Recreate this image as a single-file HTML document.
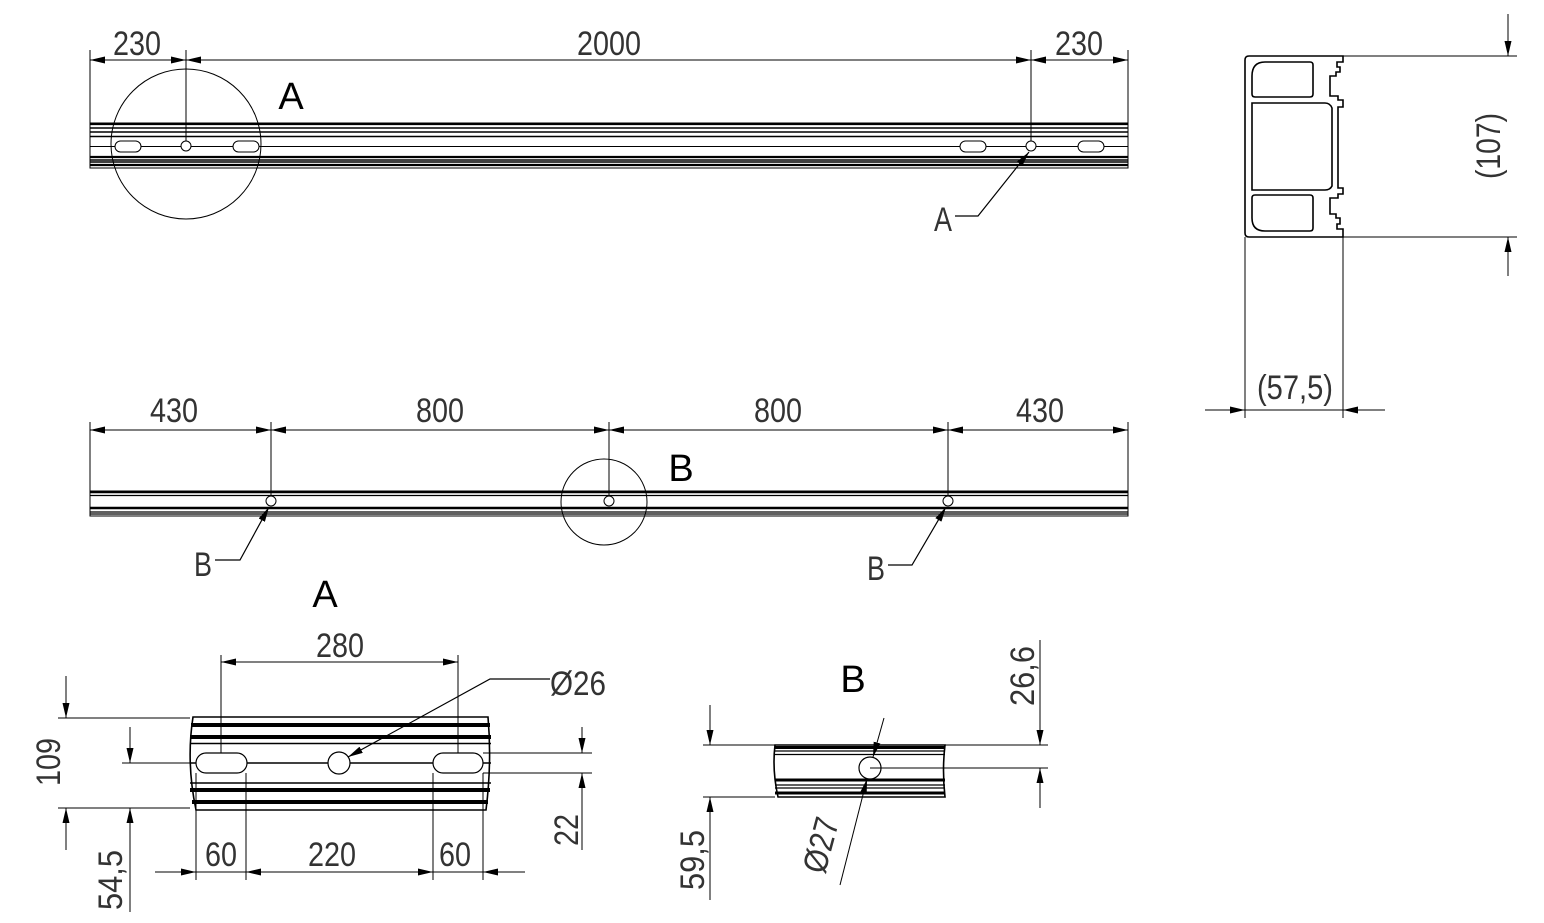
<!DOCTYPE html>
<html><head><meta charset="utf-8"><style>
html,body{margin:0;padding:0;background:#fff}
svg{display:block}
text{font-family:"Liberation Sans",sans-serif;fill:#333}
.d{font-size:34px}
</style></head><body>
<svg width="1544" height="923" viewBox="0 0 1544 923" xmlns="http://www.w3.org/2000/svg">
<defs>
<marker id="ar" viewBox="0 0 15 7" refX="15" refY="3.5" markerWidth="15" markerHeight="7" markerUnits="userSpaceOnUse" orient="auto-start-reverse"><path d="M0,0 L15,3.5 L0,7 z" fill="#000"/></marker>
</defs>
<g stroke="#000" fill="none" stroke-width="1">
<!-- TOP BEAM -->
<rect x="90" y="123" width="1038" height="45"/>
<g stroke-width="2.2"><line x1="90" y1="124" x2="1128" y2="124"/><line x1="90" y1="157" x2="1128" y2="157"/><line x1="90" y1="165" x2="1128" y2="165"/></g>
<g stroke-width="1.4"><line x1="90" y1="128" x2="1128" y2="128"/><line x1="90" y1="132" x2="1128" y2="132"/><line x1="90" y1="136.5" x2="1128" y2="136.5"/><line x1="90" y1="160" x2="1128" y2="160"/><line x1="90" y1="162" x2="1128" y2="162"/></g>
<line x1="90" y1="146.5" x2="1128" y2="146.5"/>
<g fill="#fff">
<rect x="115" y="141" width="26" height="11" rx="5.5"/><circle cx="186" cy="146" r="5"/><rect x="233" y="141" width="26" height="11" rx="5.5"/>
<rect x="960" y="141" width="26" height="11" rx="5.5"/><circle cx="1031" cy="146" r="5"/><rect x="1078" y="141" width="26" height="11" rx="5.5"/>
</g>
<circle cx="186" cy="144" r="75"/>
<line x1="90" y1="50" x2="90" y2="123"/><line x1="186" y1="50" x2="186" y2="141"/><line x1="1031" y1="50" x2="1031" y2="141"/><line x1="1128" y1="50" x2="1128" y2="123"/>
<line x1="138" y1="60" x2="90" y2="60" marker-end="url(#ar)"/><line x1="138" y1="60" x2="186" y2="60" marker-end="url(#ar)"/>
<line x1="608" y1="60" x2="186" y2="60" marker-end="url(#ar)"/><line x1="608" y1="60" x2="1031" y2="60" marker-end="url(#ar)"/>
<line x1="1080" y1="60" x2="1031" y2="60" marker-end="url(#ar)"/><line x1="1080" y1="60" x2="1128" y2="60" marker-end="url(#ar)"/>
<polyline points="955,216 978,216 1029,152" marker-end="url(#ar)" stroke-width="1.2"/>
<!-- PROFILE -->
<path d="M1249,56 H1343 V62 H1337 V67 H1340 V72 H1336 V76 H1330 V96 H1338 V100 H1343 V107 H1338 V188 H1343 V194 H1338 V198 H1330 V214 H1336 V218 H1340 V224 H1337 V229 H1343 V237 H1249 Q1245,237 1245,233 V60 Q1245,56 1249,56 Z" stroke-width="1.6"/>
<path d="M1265,62 H1310 Q1313,62 1313,65 V94 Q1313,97 1310,97 H1255 Q1252,97 1252,94 V76 Q1252,62 1265,62 Z" stroke-width="1.6"/>
<path d="M1252,103 H1325 Q1330,103 1332,108 V186 Q1330,190 1325,190 H1252 Z" stroke-width="1.6"/>
<path d="M1255,195 H1310 Q1313,195 1313,198 V228 Q1313,231 1310,231 H1265 Q1252,231 1252,218 V198 Q1252,195 1255,195 Z" stroke-width="1.6"/>
<line x1="1343" y1="56" x2="1517" y2="56"/><line x1="1343" y1="237" x2="1517" y2="237"/>
<line x1="1508" y1="14" x2="1508" y2="56" marker-end="url(#ar)"/><line x1="1508" y1="276" x2="1508" y2="237" marker-end="url(#ar)"/>
<line x1="1245" y1="237" x2="1245" y2="418"/><line x1="1343" y1="237" x2="1343" y2="418"/>
<line x1="1205" y1="410" x2="1245" y2="410" marker-end="url(#ar)"/><line x1="1385" y1="410" x2="1343" y2="410" marker-end="url(#ar)"/><line x1="1245" y1="410" x2="1343" y2="410"/>
<!-- MIDDLE BEAM -->
<rect x="90" y="491" width="1038" height="25"/>
<g stroke-width="2.6"><line x1="90" y1="492" x2="1128" y2="492"/><line x1="90" y1="508" x2="1128" y2="508"/></g>
<g stroke-width="1.2"><line x1="90" y1="495.5" x2="1128" y2="495.5"/><line x1="90" y1="512" x2="1128" y2="512"/><line x1="90" y1="514" x2="1128" y2="514"/></g>
<g fill="#fff"><circle cx="271" cy="501" r="5"/><circle cx="609" cy="501" r="5"/><circle cx="948" cy="501" r="5"/></g>
<circle cx="604" cy="502" r="43"/>
<line x1="90" y1="422" x2="90" y2="491"/><line x1="271" y1="422" x2="271" y2="496"/><line x1="609" y1="422" x2="609" y2="496"/><line x1="948" y1="422" x2="948" y2="496"/><line x1="1128" y1="422" x2="1128" y2="491"/>
<line x1="180" y1="430" x2="90" y2="430" marker-end="url(#ar)"/><line x1="180" y1="430" x2="271" y2="430" marker-end="url(#ar)"/>
<line x1="440" y1="430" x2="271" y2="430" marker-end="url(#ar)"/><line x1="440" y1="430" x2="609" y2="430" marker-end="url(#ar)"/>
<line x1="778" y1="430" x2="609" y2="430" marker-end="url(#ar)"/><line x1="778" y1="430" x2="948" y2="430" marker-end="url(#ar)"/>
<line x1="1038" y1="430" x2="948" y2="430" marker-end="url(#ar)"/><line x1="1038" y1="430" x2="1128" y2="430" marker-end="url(#ar)"/>
<polyline points="215,560 240,560 269,507" marker-end="url(#ar)" stroke-width="1.2"/>
<polyline points="888,565 912,565 946,507" marker-end="url(#ar)" stroke-width="1.2"/>
<!-- DETAIL A -->
<path d="M193,717 H488 Q492,762 486,810 H196 Q186,762 193,717 Z" stroke-width="1.6"/>
<g stroke-width="4"><line x1="191" y1="725" x2="490" y2="725"/><line x1="190" y1="737" x2="491" y2="737"/><line x1="190" y1="790" x2="490" y2="790"/><line x1="192" y1="802" x2="488" y2="802"/></g>
<g stroke-width="1.6"><line x1="190" y1="743.5" x2="491" y2="743.5"/><line x1="190" y1="763" x2="491" y2="763"/><line x1="190" y1="783" x2="491" y2="783"/></g>
<g fill="#fff" stroke-width="1.2"><rect x="196" y="753" width="51" height="20" rx="10"/><rect x="433" y="753" width="50" height="20" rx="10"/><circle cx="339" cy="763" r="11"/></g>
<line x1="221" y1="655" x2="221" y2="753"/><line x1="458" y1="655" x2="458" y2="753"/>
<line x1="340" y1="662" x2="221" y2="662" marker-end="url(#ar)"/><line x1="340" y1="662" x2="458" y2="662" marker-end="url(#ar)"/>
<line x1="58" y1="718" x2="190" y2="718"/><line x1="58" y1="808" x2="190" y2="808"/>
<line x1="66" y1="676" x2="66" y2="718" marker-end="url(#ar)"/><line x1="66" y1="850" x2="66" y2="808" marker-end="url(#ar)"/>
<line x1="122" y1="763" x2="196" y2="763"/>
<line x1="130" y1="727" x2="130" y2="763" marker-end="url(#ar)"/><line x1="130" y1="912" x2="130" y2="808" marker-end="url(#ar)"/>
<line x1="483" y1="753" x2="592" y2="753"/><line x1="483" y1="773" x2="592" y2="773"/>
<line x1="582" y1="727" x2="582" y2="753" marker-end="url(#ar)"/><line x1="582" y1="850" x2="582" y2="773" marker-end="url(#ar)"/>
<line x1="196" y1="773" x2="196" y2="880"/><line x1="246" y1="773" x2="246" y2="880"/><line x1="433" y1="773" x2="433" y2="880"/><line x1="483" y1="773" x2="483" y2="880"/>
<line x1="155" y1="872" x2="196" y2="872" marker-end="url(#ar)"/><line x1="246" y1="872" x2="196" y2="872"/>
<line x1="340" y1="872" x2="246" y2="872" marker-end="url(#ar)"/><line x1="340" y1="872" x2="433" y2="872" marker-end="url(#ar)"/>
<line x1="525" y1="872" x2="483" y2="872" marker-end="url(#ar)"/><line x1="433" y1="872" x2="483" y2="872"/>
<polyline points="550,679 490,679 348,757" marker-end="url(#ar)" stroke-width="1.2"/>
<!-- DETAIL B -->
<path d="M775,745 H945 Q942,770 945,797 H778 Q772,770 775,745 Z" stroke-width="1.6"/>
<g stroke-width="3"><line x1="775" y1="747.5" x2="945" y2="747.5"/><line x1="775" y1="780" x2="945" y2="780"/><line x1="775" y1="793" x2="945" y2="793"/></g>
<g stroke-width="1.3"><line x1="775" y1="751" x2="945" y2="751"/><line x1="775" y1="754.5" x2="945" y2="754.5"/><line x1="775" y1="785" x2="945" y2="785"/><line x1="775" y1="788" x2="945" y2="788"/></g>
<circle cx="870" cy="768" r="11" fill="#fff" stroke-width="1.2"/>
<line x1="703" y1="745" x2="1048" y2="745"/><line x1="870" y1="768" x2="1048" y2="768"/><line x1="703" y1="797" x2="775" y2="797"/>
<line x1="1040" y1="640" x2="1040" y2="745" marker-end="url(#ar)"/><line x1="1040" y1="808" x2="1040" y2="768" marker-end="url(#ar)"/>
<line x1="710" y1="705" x2="710" y2="745" marker-end="url(#ar)"/><line x1="710" y1="900" x2="710" y2="797" marker-end="url(#ar)"/>
<line x1="884" y1="718" x2="873" y2="757" marker-end="url(#ar)"/><line x1="840" y1="885" x2="867" y2="779" marker-end="url(#ar)"/>
</g>
<g class="d" text-anchor="middle">
<text x="137" y="55" textLength="48" lengthAdjust="spacingAndGlyphs">230</text>
<text x="609" y="55" textLength="64" lengthAdjust="spacingAndGlyphs">2000</text>
<text x="1079" y="55" textLength="48" lengthAdjust="spacingAndGlyphs">230</text>
<text x="943" y="231" textLength="18" lengthAdjust="spacingAndGlyphs">A</text>
<text x="1295" y="399" textLength="76" lengthAdjust="spacingAndGlyphs">(57,5)</text>
<text transform="translate(1500,146) rotate(-90)" textLength="66" lengthAdjust="spacingAndGlyphs">(107)</text>
<text x="174" y="422" textLength="48" lengthAdjust="spacingAndGlyphs">430</text>
<text x="440" y="422" textLength="48" lengthAdjust="spacingAndGlyphs">800</text>
<text x="778" y="422" textLength="48" lengthAdjust="spacingAndGlyphs">800</text>
<text x="1040" y="422" textLength="48" lengthAdjust="spacingAndGlyphs">430</text>
<text x="203" y="576" textLength="18" lengthAdjust="spacingAndGlyphs">B</text>
<text x="876" y="580" textLength="18" lengthAdjust="spacingAndGlyphs">B</text>
<text x="340" y="657" textLength="48" lengthAdjust="spacingAndGlyphs">280</text>
<text x="578" y="695" textLength="56" lengthAdjust="spacingAndGlyphs">Ø26</text>
<text transform="translate(60,762) rotate(-90)" textLength="48" lengthAdjust="spacingAndGlyphs">109</text>
<text transform="translate(122,880) rotate(-90)" textLength="60" lengthAdjust="spacingAndGlyphs">54,5</text>
<text transform="translate(578,830) rotate(-90)" textLength="32" lengthAdjust="spacingAndGlyphs">22</text>
<text x="221" y="866" textLength="32" lengthAdjust="spacingAndGlyphs">60</text>
<text x="332" y="866" textLength="48" lengthAdjust="spacingAndGlyphs">220</text>
<text x="455" y="866" textLength="32" lengthAdjust="spacingAndGlyphs">60</text>
<text transform="translate(1034,676) rotate(-90)" textLength="60" lengthAdjust="spacingAndGlyphs">26,6</text>
<text transform="translate(704,860) rotate(-90)" textLength="60" lengthAdjust="spacingAndGlyphs">59,5</text>
<text transform="translate(832,848) rotate(-75)" textLength="56" lengthAdjust="spacingAndGlyphs">Ø27</text>
</g>
<g font-size="38" text-anchor="middle">
<text x="291" y="109" style="fill:#000">A</text>
<text x="681" y="481" style="fill:#000">B</text>
<text x="325" y="607" style="fill:#000">A</text>
<text x="853" y="692" style="fill:#000">B</text>
</g>
</svg>
</body></html>
